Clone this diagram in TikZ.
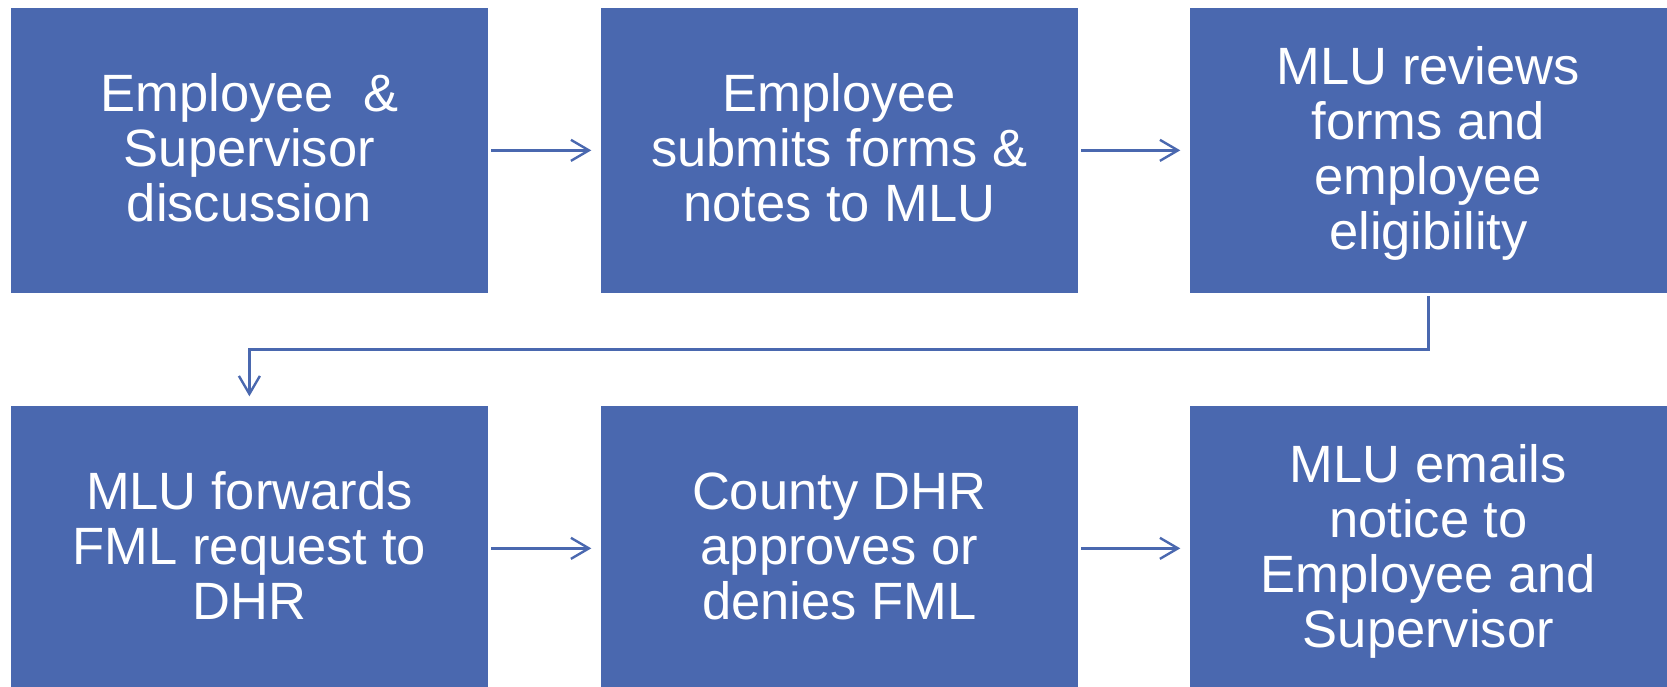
\documentclass[tikz,border=0pt]{standalone}
\usepackage{fontspec}
\setmainfont{Liberation Sans}
\usetikzlibrary{arrows.meta}
\definecolor{boxblue}{RGB}{74,104,175}
\newcommand\linestrut{\rule[-11.2pt]{0pt}{55pt}}
\begin{document}
\begin{tikzpicture}[x=1pt,y=-1pt,
  stepbox/.style={fill=boxblue, draw=none, minimum width=476.7pt, minimum height=284.7pt,
    inner sep=0pt, text=white, align=center, font=\fontsize{52.5}{55}\selectfont},
  flow/.style={draw=boxblue, line width=2.4pt, -{Straight Barb[length=18pt,width=21pt]},
    shorten <=3.5pt, shorten >=9.5pt}]
\useasboundingbox (0,0) rectangle (1667,687);
\node[stepbox] (a) at (249.4,150.35) {\linestrut Employee\ \ \&\\Supervisor\\\linestrut discussion};
\node[stepbox] (b) at (839.35,150.35) {\linestrut Employee\\submits forms \&\\\linestrut notes to MLU};
\node[stepbox] (c) at (1428.35,150.35) {\linestrut MLU reviews\\forms and\\employee\\\linestrut eligibility};
\node[stepbox] (d) at (249.4,548.35) {\linestrut MLU forwards\\FML request to\\\linestrut DHR};
\node[stepbox] (e) at (839.35,548.35) {\linestrut County DHR\\approves or\\\linestrut denies FML};
\node[stepbox] (f) at (1428.35,548.35) {\linestrut MLU emails\\notice to\\Employee and\\\linestrut Supervisor};
\draw[flow] (a) -- (b);
\draw[flow] (b) -- (c);
\draw[flow] (c.south) -- ++(0,56.6) -| (d.north);
\draw[flow] (d) -- (e);
\draw[flow] (e) -- (f);
\end{tikzpicture}
\end{document}
